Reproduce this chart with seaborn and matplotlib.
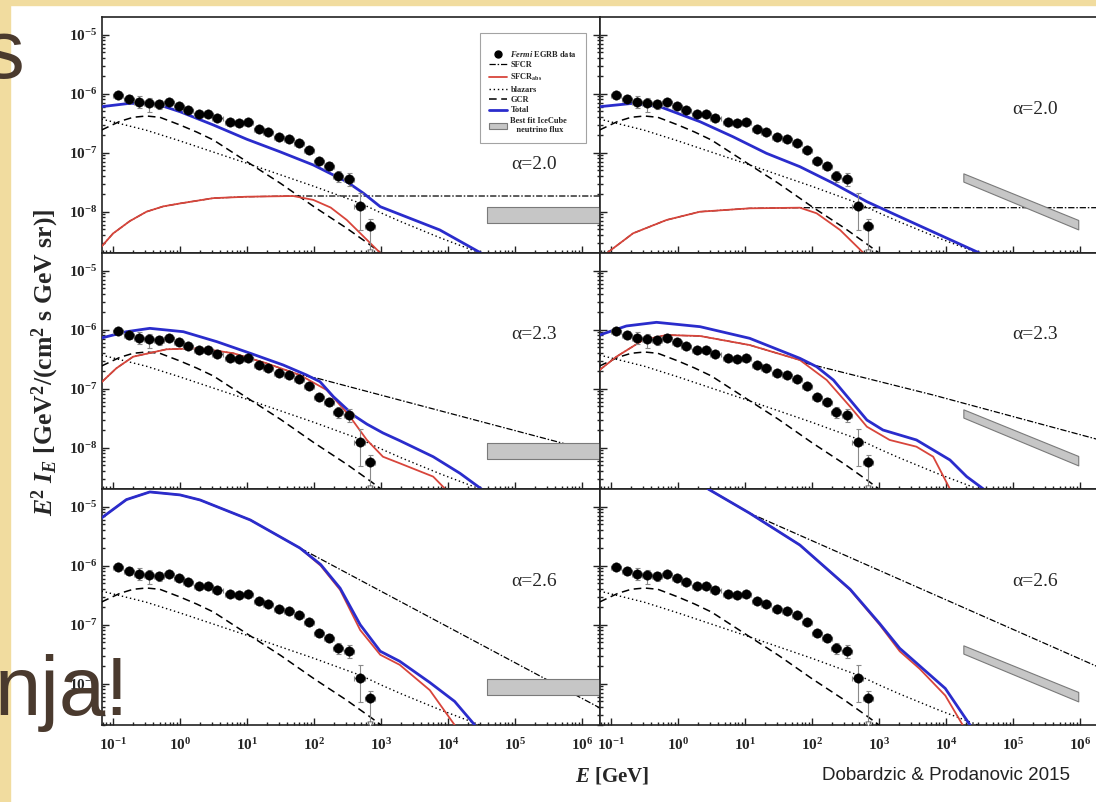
import numpy as np
import pandas as pd
import matplotlib
matplotlib.use("Agg")
import matplotlib.pyplot as plt
import seaborn as sns
from matplotlib.lines import Line2D
from matplotlib.patches import Patch, Rectangle
from matplotlib.ticker import LogLocator, FuncFormatter, NullFormatter

# values are log10(E / GeV) and log10(E^2 I_E / GeV cm^-2 s^-1 sr^-1)

# Fermi EGRB data
egrb_logE = [-0.93, -0.76, -0.61, -0.46, -0.31, -0.17, -0.02, 0.12, 0.28, 0.42,
             0.56, 0.74, 0.88, 1.02, 1.18, 1.32, 1.48, 1.63, 1.78, 1.92,
             2.07, 2.22, 2.36, 2.52, 2.68, 2.83]
egrb_logF = [-6.02, -6.095, -6.136, -6.153, -6.175, -6.136, -6.208, -6.276, -6.344, -6.349,
             -6.407, -6.48, -6.49, -6.48, -6.593, -6.644, -6.729, -6.763, -6.84, -6.96,
             -7.14, -7.225, -7.395, -7.44, -7.903, -8.242]
egrb_err_up = [0.05, 0.07, 0.09, 0.08, 0.06, 0.04, 0.04, 0.04, 0.03, 0.03,
               0.04, 0.03, 0.03, 0.03, 0.03, 0.03, 0.03, 0.03, 0.04, 0.04,
               0.05, 0.06, 0.08, 0.09, 0.22, 0.12]
egrb_err_dn = [0.05, 0.07, 0.10, 0.15, 0.09, 0.04, 0.04, 0.04, 0.03, 0.03,
               0.04, 0.03, 0.04, 0.03, 0.03, 0.03, 0.03, 0.03, 0.04, 0.04,
               0.06, 0.07, 0.10, 0.13, 0.41, 0.44]
egrb_bin_half = 0.075

# components common to all panels
gcr = [(-1.17, -6.615), (-0.9, -6.47), (-0.7, -6.40), (-0.5, -6.378), (-0.3, -6.40),
       (0.0, -6.53), (0.25, -6.65), (0.5, -6.785), (1.0, -7.153), (1.5, -7.519),
       (2.0, -7.915), (2.49, -8.281), (2.84, -8.564), (3.0, -8.70)]
blazars = [(-1.17, -6.43), (-0.5, -6.62), (0.0, -6.80), (1.0, -7.18), (2.0, -7.57),
           (2.7, -7.86), (3.0, -8.02), (3.3, -8.17), (3.9, -8.45), (4.48, -8.70)]

# IceCube best fit bands
icecube_flat_logE = [4.58, 6.4]
icecube_flat_hi = [-7.925, -7.925]
icecube_flat_lo = [-8.197, -8.197]
icecube_soft_logE = [4.26, 5.975]
icecube_soft_hi = [-7.35, -8.14]
icecube_soft_lo = [-7.49, -8.30]

alpha_labels = ["α=2.0", "α=2.3", "α=2.6"]

# alpha = 2.0, left column
sfcr_20_l = [(-1.17, -8.59), (-1.0, -8.37), (-0.75, -8.16), (-0.5, -8.0), (-0.25, -7.91),
             (0.0, -7.86), (0.5, -7.77), (1.0, -7.746), (1.69, -7.734), (6.3, -7.734)]
abs_20_l = [(-1.17, -8.59), (-1.0, -8.37), (-0.75, -8.16), (-0.5, -8.0), (-0.25, -7.91),
            (0.0, -7.86), (0.5, -7.77), (1.0, -7.746), (1.69, -7.734), (1.99, -7.80),
            (2.25, -7.93), (2.49, -8.14), (2.74, -8.42), (2.99, -8.70)]
tot_20_l = [(-1.17, -6.22), (-0.75, -6.163), (-0.35, -6.175), (0.0, -6.305), (0.5, -6.531),
            (1.0, -6.773), (1.49, -6.983), (1.99, -7.208), (2.49, -7.492), (2.74, -7.688),
            (2.99, -7.915), (3.88, -8.31), (4.5, -8.705)]

# alpha = 2.0, right column
sfcr_20_r = [(-1.06, -8.70), (-0.67, -8.366), (-0.17, -8.14), (0.33, -8.0), (1.07, -7.943),
             (1.82, -7.932), (6.3, -7.932)]
abs_20_r = [(-1.06, -8.70), (-0.67, -8.366), (-0.17, -8.14), (0.33, -8.0), (1.07, -7.943),
            (1.82, -7.932), (2.07, -8.027), (2.42, -8.31), (2.77, -8.70)]
tot_20_r = [(-1.17, -6.22), (-0.67, -6.163), (-0.27, -6.22), (0.33, -6.475), (0.82, -6.729),
            (1.32, -7.01), (1.82, -7.237), (2.32, -7.519), (2.82, -7.83), (3.31, -8.085),
            (4.51, -8.705)]

# alpha = 2.3, left column
sfcr_23_l = [(-1.17, -6.89), (-0.95, -6.654), (-0.7, -6.458), (-0.2, -6.332), (0.3, -6.315),
             (0.8, -6.40), (1.29, -6.569), (1.79, -6.768), (2.04, -6.82), (6.3, -8.10)]
abs_23_l = [(-1.17, -6.89), (-0.95, -6.654), (-0.7, -6.458), (-0.2, -6.332), (0.3, -6.315),
            (0.8, -6.40), (1.29, -6.569), (1.79, -6.768), (2.19, -7.022), (2.52, -7.446),
            (2.79, -7.869), (3.03, -8.153), (3.28, -8.264), (3.78, -8.49), (3.96, -8.70)]
tot_23_l = [(-1.17, -6.14), (-0.8, -6.034), (-0.45, -5.977), (0.05, -6.034), (0.55, -6.203),
            (1.05, -6.40), (1.54, -6.598), (1.89, -6.768), (2.09, -6.881), (2.29, -7.135),
            (2.59, -7.45), (2.79, -7.60), (3.03, -7.75), (3.28, -7.88), (3.78, -8.153),
            (4.18, -8.434), (4.5, -8.70)]

# alpha = 2.3, right column
sfcr_23_r = [(-1.17, -6.683), (-0.92, -6.458), (-0.52, -6.175), (-0.17, -6.09), (0.33, -6.107),
             (1.07, -6.26), (1.82, -6.514), (1.92, -6.57), (3.81, -7.107), (6.3, -7.87)]
abs_23_r = [(-1.17, -6.683), (-0.92, -6.458), (-0.52, -6.175), (-0.17, -6.09), (0.33, -6.107),
            (1.07, -6.26), (1.82, -6.514), (2.22, -6.853), (2.57, -7.305), (2.82, -7.644),
            (3.16, -7.869), (3.56, -7.983), (3.81, -8.153), (4.06, -8.70)]
tot_23_r = [(-1.17, -6.09), (-0.77, -5.937), (-0.32, -5.875), (0.33, -5.949), (1.07, -6.146),
            (1.82, -6.485), (2.07, -6.627), (2.32, -6.853), (2.57, -7.192), (2.82, -7.531),
            (3.06, -7.70), (3.56, -7.869), (4.06, -8.208), (4.31, -8.49), (4.56, -8.70)]

# alpha = 2.6, left column
sfcr_26_l = [(-1.17, -5.19), (-0.8, -4.88), (-0.45, -4.75), (0.0, -4.80), (0.3, -4.886),
             (1.05, -5.225), (1.79, -5.70), (6.3, -8.43)]
abs_26_l = [(-1.17, -5.19), (-0.8, -4.88), (-0.45, -4.75), (0.0, -4.80), (0.3, -4.886),
            (1.05, -5.225), (1.79, -5.70), (2.1, -6.0), (2.39, -6.41), (2.69, -7.09),
            (2.99, -7.51), (3.28, -7.68), (3.73, -8.11), (4.10, -8.70)]
tot_26_l = [(-1.17, -5.19), (-0.8, -4.88), (-0.45, -4.75), (0.0, -4.80), (0.3, -4.886),
            (1.05, -5.225), (1.79, -5.70), (2.1, -5.98), (2.39, -6.38), (2.69, -7.0),
            (2.99, -7.45), (3.28, -7.62), (3.73, -7.98), (4.10, -8.3), (4.40, -8.70)]

# alpha = 2.6, right column
sfcr_26_r = [(0.45, -4.70), (1.07, -5.11), (6.3, -7.73)]
abs_26_r = [(0.45, -4.70), (1.07, -5.11), (1.82, -5.65), (2.57, -6.41), (3.01, -7.0),
            (3.31, -7.45), (3.61, -7.75), (3.99, -8.2), (4.25, -8.70)]
tot_26_r = [(0.45, -4.70), (1.07, -5.11), (1.82, -5.65), (2.57, -6.40), (3.01, -6.98),
            (3.31, -7.40), (3.61, -7.70), (3.99, -8.08), (4.36, -8.70)]

panels = [
    [(sfcr_20_l, abs_20_l, tot_20_l), (sfcr_20_r, abs_20_r, tot_20_r)],
    [(sfcr_23_l, abs_23_l, tot_23_l), (sfcr_23_r, abs_23_r, tot_23_r)],
    [(sfcr_26_l, abs_26_l, tot_26_l), (sfcr_26_r, abs_26_r, tot_26_r)],
]
label_pos = [[(0.868, 0.373), (0.873, 0.606)],
             [(0.868, 0.653), (0.873, 0.653)],
             [(0.868, 0.606), (0.873, 0.606)]]

BLUE = "#2a2ccc"
RED = "#d8453b"
DASHDOT = (0, (5, 1.5, 1.2, 1.5))
DOTTED = (0, (1, 2))
DASHED = (0, (5, 3))

sns.set_style("ticks")
plt.rcParams["font.family"] = ["Liberation Serif", "DejaVu Serif"]
plt.rcParams["mathtext.fontset"] = "custom"
plt.rcParams["mathtext.rm"] = "Liberation Serif"
plt.rcParams["mathtext.it"] = "Liberation Serif:italic"
plt.rcParams["mathtext.bf"] = "Liberation Serif:bold"
plt.rcParams["mathtext.bfit"] = "Liberation Serif:bold:italic"


def curve(ax, pts, **kw):
    df = pd.DataFrame(pts, columns=["logE", "logF"])
    sns.lineplot(x=10 ** df["logE"], y=10 ** df["logF"], ax=ax, sort=False,
                 estimator=None, **kw)


def decade_label(v, pos):
    e = int(round(np.log10(v)))
    return r"$\mathbf{10^{%d}}$" % e


fig = plt.figure(figsize=(10.96, 8.02), dpi=100)
fig.patch.set_facecolor("white")
fig.patches.append(Rectangle((0, 0), 10 / 1096, 1, transform=fig.transFigure,
                             color="#f1dc9f", zorder=0))
fig.patches.append(Rectangle((0, 1 - 5 / 802), 1, 5 / 802, transform=fig.transFigure,
                             color="#f1dc9f", zorder=0))

col_x = [102 / 1096, 600 / 1096]
row_y = [1 - 253 / 802, 1 - 489 / 802, 1 - 725 / 802]
w, h = 498 / 1096, 236 / 802

egrb_E = 10 ** np.array(egrb_logE)
egrb_F = 10 ** np.array(egrb_logF)
yerr = [egrb_F - egrb_F / 10 ** np.array(egrb_err_dn),
        egrb_F * 10 ** np.array(egrb_err_up) - egrb_F]
xerr = [egrb_E - egrb_E / 10 ** egrb_bin_half, egrb_E * 10 ** egrb_bin_half - egrb_E]

for r in range(3):
    for c in range(2):
        ax = fig.add_axes([col_x[c], row_y[r], w, h])
        ax.set_xscale("log")
        ax.set_yscale("log")
        ax.set_xlim(10 ** -1.164, 10 ** 6.27)
        ax.set_ylim(10 ** -8.7, 10 ** -4.7)
        sfcr, sabs, tot = panels[r][c]

        if c == 0:
            band_x, band_hi, band_lo = icecube_flat_logE, icecube_flat_hi, icecube_flat_lo
        else:
            band_x, band_hi, band_lo = icecube_soft_logE, icecube_soft_hi, icecube_soft_lo
        ax.fill_between(10 ** np.array(band_x), 10 ** np.array(band_lo), 10 ** np.array(band_hi),
                        facecolor="#c6c6c6", edgecolor="#7a7a7a", lw=0.8, zorder=4)

        curve(ax, sfcr, color="black", lw=0.9, linestyle=DASHDOT, zorder=3)
        curve(ax, blazars, color="black", lw=1.0, linestyle=DOTTED, zorder=3)
        curve(ax, gcr, color="black", lw=1.1, linestyle=DASHED, zorder=3)
        curve(ax, sabs, color=RED, lw=1.3, zorder=3)
        curve(ax, tot, color=BLUE, lw=2.0, zorder=3)

        ax.errorbar(egrb_E, egrb_F, yerr=yerr, xerr=xerr, fmt="none", ecolor="#8a8a8a",
                    elinewidth=0.8, capsize=1.8, capthick=0.8, zorder=5)
        sns.scatterplot(x=egrb_E, y=egrb_F, ax=ax, color="black", s=46, edgecolor="black",
                        linewidth=0.3, zorder=6)
        ax.scatter([egrb_E[-1]], [egrb_F[-1] / 10 ** egrb_err_dn[-1]], marker="v", s=14,
                   facecolor="white", edgecolor="#555555", lw=0.6, zorder=6)

        ax.text(*label_pos[r][c], alpha_labels[r], transform=ax.transAxes, fontsize=14,
                ha="center", va="center")

        ax.xaxis.set_major_locator(LogLocator(base=10, numticks=20))
        ax.xaxis.set_minor_locator(LogLocator(base=10, subs=np.arange(2, 10), numticks=20))
        ax.yaxis.set_major_locator(LogLocator(base=10, numticks=20))
        ax.yaxis.set_minor_locator(LogLocator(base=10, subs=np.arange(2, 10), numticks=20))
        ax.tick_params(which="both", direction="in", top=False, right=(c == 0), width=1.0,
                       color="#222222")
        ax.tick_params(which="major", length=5)
        ax.tick_params(which="minor", length=2.5)
        ax.tick_params(axis="y", pad=3, labelsize=11)
        ax.tick_params(axis="x", pad=9, labelsize=11)
        ax.xaxis.set_minor_formatter(NullFormatter())
        ax.yaxis.set_minor_formatter(NullFormatter())
        if r == 2:
            ax.xaxis.set_major_formatter(FuncFormatter(decade_label))
        else:
            ax.xaxis.set_major_formatter(NullFormatter())
        if c == 0:
            ax.yaxis.set_major_formatter(FuncFormatter(decade_label))
        else:
            ax.yaxis.set_major_formatter(NullFormatter())
        for sp in ax.spines.values():
            sp.set_linewidth(1.2)
            sp.set_color("#222222")
        ax.set_xlabel("")
        ax.set_ylabel("")

        if r == 0 and c == 0:
            handles = [
                Line2D([], [], marker="o", color="black", ls="none", ms=5),
                Line2D([], [], color="black", lw=0.9, ls=DASHDOT),
                Line2D([], [], color=RED, lw=1.3),
                Line2D([], [], color="black", lw=1.0, ls=DOTTED),
                Line2D([], [], color="black", lw=1.1, ls=DASHED),
                Line2D([], [], color=BLUE, lw=2.0),
                Patch(facecolor="#c6c6c6", edgecolor="#7a7a7a", lw=0.8),
            ]
            labels = [r"$\mathbfit{Fermi}$ EGRB data", "SFCR", r"SFCR$_{\mathbf{abs}}$",
                      "blazars", "GCR", "Total", "Best fit IceCube\n   neutrino flux"]
            leg = ax.legend(handles, labels, loc="upper right", bbox_to_anchor=(0.98, 0.95),
                            prop={"family": "Liberation Serif", "weight": "bold", "size": 6},
                            title=" ", title_fontsize=5,
                            frameon=True, fancybox=False, edgecolor="#8c8c8c",
                            borderpad=1.0, labelspacing=0.3, handlelength=2.2,
                            handletextpad=0.4)
            leg.get_frame().set_linewidth(0.8)
            leg.set_zorder(10)

fig.text(45 / 1096, 1 - 362 / 802,
         r"$\mathbfit{E}^{\mathbf{2}}\ \mathbfit{I}_{\mathbfit{E}}$ [GeV$^{\mathbf{2}}$/(cm$^{\mathbf{2}}$ s GeV sr)]",
         rotation=90, ha="center", va="center", fontsize=18.5, fontweight="bold")
fig.text(612 / 1096, 1 - 776 / 802, r"$\mathbfit{E}$ [GeV]", ha="center", va="center",
         fontsize=15, fontweight="bold")
fig.text(946 / 1096, 1 - 776 / 802, "Dobardzic & Prodanovic 2015", ha="center", va="center",
         fontsize=13.5, family="Liberation Sans", color="#222222")

fig.text(24 / 1096, 1 - 78 / 802, "s", ha="right", va="baseline", fontsize=60,
         family="Liberation Sans", color="#4a3a2e", zorder=20)
fig.text(-6 / 1096, 1 - 715 / 802, "nja!", ha="left", va="baseline", fontsize=60,
         family="Liberation Sans", color="#4a3a2e", zorder=20)

fig.savefig("out.png", dpi=100)
